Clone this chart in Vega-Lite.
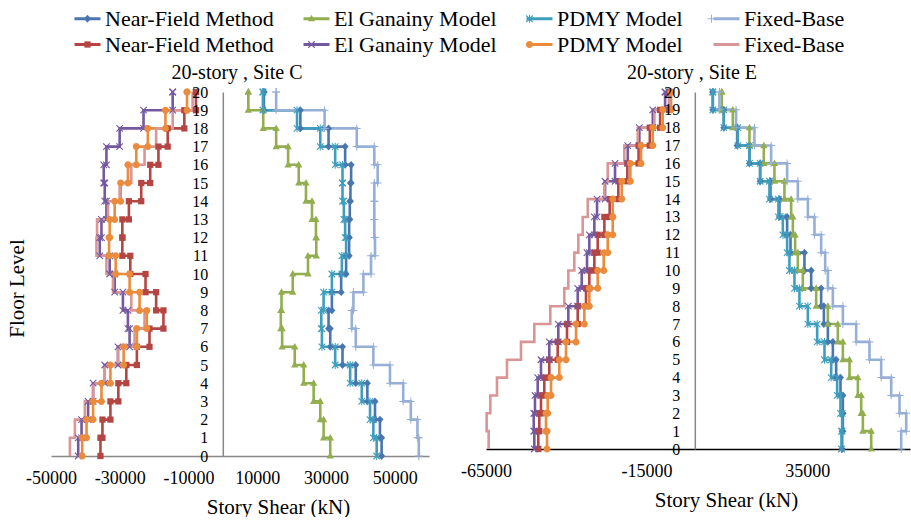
{
"$schema": "https://vega.github.io/schema/vega-lite/v6.json",
"background": "white",
"padding": {"left": 6, "top": 4, "right": 0, "bottom": 0},
"autosize": {"type": "pad"},
"config": {"view": {"stroke": null}, "font": "Liberation Serif", "axis": {"labelOverlap": false, "labelFont": "Liberation Serif", "titleFont": "Liberation Serif"}, "legend": {"labelLimit": 0}},
"datasets": {
"C": [
{"s":"a1","f":0,"v":46210},{"s":"a1","f":1,"v":45730},{"s":"a1","f":2,"v":44290},{"s":"a1","f":3,"v":42060},{"s":"a1","f":4,"v":38690},{"s":"a1","f":5,"v":34830},{"s":"a1","f":6,"v":31260},{"s":"a1","f":7,"v":30770},{"s":"a1","f":8,"v":31740},{"s":"a1","f":9,"v":34440},{"s":"a1","f":10,"v":35880},{"s":"a1","f":11,"v":36760},{"s":"a1","f":12,"v":36760},{"s":"a1","f":13,"v":36950},{"s":"a1","f":14,"v":37140},{"s":"a1","f":15,"v":37340},{"s":"a1","f":16,"v":35600},{"s":"a1","f":17,"v":30770},{"s":"a1","f":18,"v":22570},{"s":"a1","f":19,"v":11960},{"s":"a1","f":20,"v":11960},
{"s":"a2","f":0,"v":31260},{"s":"a2","f":1,"v":29330},{"s":"a2","f":2,"v":28360},{"s":"a2","f":3,"v":26430},{"s":"a2","f":4,"v":23540},{"s":"a2","f":5,"v":20930},{"s":"a2","f":6,"v":17260},{"s":"a2","f":7,"v":16880},{"s":"a2","f":8,"v":17080},{"s":"a2","f":9,"v":20350},{"s":"a2","f":10,"v":24790},{"s":"a2","f":11,"v":27200},{"s":"a2","f":12,"v":27100},{"s":"a2","f":13,"v":25950},{"s":"a2","f":14,"v":24200},{"s":"a2","f":15,"v":22090},{"s":"a2","f":16,"v":19000},{"s":"a2","f":17,"v":15520},{"s":"a2","f":18,"v":11760},{"s":"a2","f":19,"v":7420},{"s":"a2","f":20,"v":7420},
{"s":"a3","f":0,"v":44770},{"s":"a3","f":1,"v":43810},{"s":"a3","f":2,"v":42840},{"s":"a3","f":3,"v":40430},{"s":"a3","f":4,"v":37050},{"s":"a3","f":5,"v":32700},{"s":"a3","f":6,"v":28840},{"s":"a3","f":7,"v":28650},{"s":"a3","f":8,"v":29330},{"s":"a3","f":9,"v":31740},{"s":"a3","f":10,"v":34640},{"s":"a3","f":11,"v":35880},{"s":"a3","f":12,"v":35600},{"s":"a3","f":13,"v":35220},{"s":"a3","f":14,"v":34830},{"s":"a3","f":15,"v":34830},{"s":"a3","f":16,"v":32700},{"s":"a3","f":17,"v":28360},{"s":"a3","f":18,"v":21600},{"s":"a3","f":19,"v":11670},{"s":"a3","f":20,"v":11670},
{"s":"a4","f":0,"v":57030},{"s":"a4","f":1,"v":56640},{"s":"a4","f":2,"v":54710},{"s":"a4","f":3,"v":52490},{"s":"a4","f":4,"v":48640},{"s":"a4","f":5,"v":43810},{"s":"a4","f":6,"v":38690},{"s":"a4","f":7,"v":37530},{"s":"a4","f":8,"v":38010},{"s":"a4","f":9,"v":40910},{"s":"a4","f":10,"v":43130},{"s":"a4","f":11,"v":44290},{"s":"a4","f":12,"v":44090},{"s":"a4","f":13,"v":44090},{"s":"a4","f":14,"v":44090},{"s":"a4","f":15,"v":45060},{"s":"a4","f":16,"v":44090},{"s":"a4","f":17,"v":38980},{"s":"a4","f":18,"v":29620},{"s":"a4","f":19,"v":15520},{"s":"a4","f":20,"v":15520},
{"s":"b1","f":0,"v":-35610},{"s":"b1","f":1,"v":-35030},{"s":"b1","f":2,"v":-32710},{"s":"b1","f":3,"v":-30400},{"s":"b1","f":4,"v":-28080},{"s":"b1","f":5,"v":-25010},{"s":"b1","f":6,"v":-21340},{"s":"b1","f":7,"v":-17280},{"s":"b1","f":8,"v":-19400},{"s":"b1","f":9,"v":-22490},{"s":"b1","f":10,"v":-26920},{"s":"b1","f":11,"v":-29240},{"s":"b1","f":12,"v":-29240},{"s":"b1","f":13,"v":-27330},{"s":"b1","f":14,"v":-23740},{"s":"b1","f":15,"v":-21130},{"s":"b1","f":16,"v":-18730},{"s":"b1","f":17,"v":-16040},{"s":"b1","f":18,"v":-11200},{"s":"b1","f":19,"v":-7820},{"s":"b1","f":20,"v":-7820},
{"s":"b2","f":0,"v":-42080},{"s":"b2","f":1,"v":-41110},{"s":"b2","f":2,"v":-39200},{"s":"b2","f":3,"v":-37750},{"s":"b2","f":4,"v":-34360},{"s":"b2","f":5,"v":-30510},{"s":"b2","f":6,"v":-27130},{"s":"b2","f":7,"v":-27620},{"s":"b2","f":8,"v":-29070},{"s":"b2","f":9,"v":-31470},{"s":"b2","f":10,"v":-32920},{"s":"b2","f":11,"v":-35810},{"s":"b2","f":12,"v":-35320},{"s":"b2","f":13,"v":-33870},{"s":"b2","f":14,"v":-34360},{"s":"b2","f":15,"v":-34650},{"s":"b2","f":16,"v":-33870},{"s":"b2","f":17,"v":-30020},{"s":"b2","f":18,"v":-23070},{"s":"b2","f":19,"v":-14590},{"s":"b2","f":20,"v":-14590},
{"s":"b3","f":0,"v":-40930},{"s":"b3","f":1,"v":-39660},{"s":"b3","f":2,"v":-37750},{"s":"b3","f":3,"v":-35320},{"s":"b3","f":4,"v":-32710},{"s":"b3","f":5,"v":-28860},{"s":"b3","f":6,"v":-25010},{"s":"b3","f":7,"v":-22120},{"s":"b3","f":8,"v":-24230},{"s":"b3","f":9,"v":-27130},{"s":"b3","f":10,"v":-31180},{"s":"b3","f":11,"v":-33110},{"s":"b3","f":12,"v":-32920},{"s":"b3","f":13,"v":-31470},{"s":"b3","f":14,"v":-29730},{"s":"b3","f":15,"v":-27620},{"s":"b3","f":16,"v":-25190},{"s":"b3","f":17,"v":-21830},{"s":"b3","f":18,"v":-16700},{"s":"b3","f":19,"v":-10420},{"s":"b3","f":20,"v":-10420},
{"s":"b4","f":0,"v":-44500},{"s":"b4","f":1,"v":-43050},{"s":"b4","f":2,"v":-40150},{"s":"b4","f":3,"v":-37750},{"s":"b4","f":4,"v":-34360},{"s":"b4","f":5,"v":-30510},{"s":"b4","f":6,"v":-25680},{"s":"b4","f":7,"v":-22780},{"s":"b4","f":8,"v":-26630},{"s":"b4","f":9,"v":-31960},{"s":"b4","f":10,"v":-33870},{"s":"b4","f":11,"v":-36770},{"s":"b4","f":12,"v":-36590},{"s":"b4","f":13,"v":-33400},{"s":"b4","f":14,"v":-30020},{"s":"b4","f":15,"v":-26630},{"s":"b4","f":16,"v":-22780},{"s":"b4","f":17,"v":-19400},{"s":"b4","f":18,"v":-14590},{"s":"b4","f":19,"v":-8790},{"s":"b4","f":20,"v":-8790}
],
"E": [
{"s":"a1","f":0,"v":45880},{"s":"a1","f":1,"v":46100},{"s":"a1","f":2,"v":46100},{"s":"a1","f":3,"v":45360},{"s":"a1","f":4,"v":44010},{"s":"a1","f":5,"v":42980},{"s":"a1","f":6,"v":41430},{"s":"a1","f":7,"v":40180},{"s":"a1","f":8,"v":39340},{"s":"a1","f":9,"v":36230},{"s":"a1","f":10,"v":34140},{"s":"a1","f":11,"v":29800},{"s":"a1","f":12,"v":28750},{"s":"a1","f":13,"v":26360},{"s":"a1","f":14,"v":23560},{"s":"a1","f":15,"v":20340},{"s":"a1","f":16,"v":17020},{"s":"a1","f":17,"v":13180},{"s":"a1","f":18,"v":9030},{"s":"a1","f":19,"v":5610},{"s":"a1","f":20,"v":5610},
{"s":"a2","f":0,"v":54920},{"s":"a2","f":1,"v":52330},{"s":"a2","f":2,"v":51800},{"s":"a2","f":3,"v":50770},{"s":"a2","f":4,"v":48170},{"s":"a2","f":5,"v":46100},{"s":"a2","f":6,"v":44540},{"s":"a2","f":7,"v":41430},{"s":"a2","f":8,"v":37790},{"s":"a2","f":9,"v":33640},{"s":"a2","f":10,"v":32080},{"s":"a2","f":11,"v":31240},{"s":"a2","f":12,"v":30530},{"s":"a2","f":13,"v":30000},{"s":"a2","f":14,"v":27910},{"s":"a2","f":15,"v":24800},{"s":"a2","f":16,"v":21490},{"s":"a2","f":17,"v":17020},{"s":"a2","f":18,"v":11840},{"s":"a2","f":19,"v":8410},{"s":"a2","f":20,"v":8410},
{"s":"a3","f":0,"v":45670},{"s":"a3","f":1,"v":45880},{"s":"a3","f":2,"v":45360},{"s":"a3","f":3,"v":44320},{"s":"a3","f":4,"v":42460},{"s":"a3","f":5,"v":40380},{"s":"a3","f":6,"v":38100},{"s":"a3","f":7,"v":35200},{"s":"a3","f":8,"v":32580},{"s":"a3","f":9,"v":31030},{"s":"a3","f":10,"v":29470},{"s":"a3","f":11,"v":28750},{"s":"a3","f":12,"v":27410},{"s":"a3","f":13,"v":26040},{"s":"a3","f":14,"v":23240},{"s":"a3","f":15,"v":20340},{"s":"a3","f":16,"v":17020},{"s":"a3","f":17,"v":13390},{"s":"a3","f":18,"v":9030},{"s":"a3","f":19,"v":5610},{"s":"a3","f":20,"v":5610},
{"s":"a4","f":0,"v":64260},{"s":"a4","f":1,"v":65820},{"s":"a4","f":2,"v":63730},{"s":"a4","f":3,"v":61150},{"s":"a4","f":4,"v":58030},{"s":"a4","f":5,"v":54390},{"s":"a4","f":6,"v":50240},{"s":"a4","f":7,"v":46100},{"s":"a4","f":8,"v":42980},{"s":"a4","f":9,"v":41430},{"s":"a4","f":10,"v":40590},{"s":"a4","f":11,"v":39340},{"s":"a4","f":12,"v":37260},{"s":"a4","f":13,"v":35200},{"s":"a4","f":14,"v":32080},{"s":"a4","f":15,"v":28750},{"s":"a4","f":16,"v":23770},{"s":"a4","f":17,"v":18570},{"s":"a4","f":18,"v":12860},{"s":"a4","f":19,"v":7670},{"s":"a4","f":20,"v":7670},
{"s":"b1","f":0,"v":-48720},{"s":"b1","f":1,"v":-48410},{"s":"b1","f":2,"v":-47880},{"s":"b1","f":3,"v":-46850},{"s":"b1","f":4,"v":-45290},{"s":"b1","f":5,"v":-42680},{"s":"b1","f":6,"v":-39780},{"s":"b1","f":7,"v":-36450},{"s":"b1","f":8,"v":-33860},{"s":"b1","f":9,"v":-32830},{"s":"b1","f":10,"v":-31270},{"s":"b1","f":11,"v":-30220},{"s":"b1","f":12,"v":-28150},{"s":"b1","f":13,"v":-26500},{"s":"b1","f":14,"v":-23800},{"s":"b1","f":15,"v":-21000},{"s":"b1","f":16,"v":-17500},{"s":"b1","f":17,"v":-14000},{"s":"b1","f":18,"v":-10800},{"s":"b1","f":19,"v":-8000},{"s":"b1","f":20,"v":-8000},
{"s":"b2","f":0,"v":-49960},{"s":"b2","f":1,"v":-50150},{"s":"b2","f":2,"v":-49750},{"s":"b2","f":3,"v":-48910},{"s":"b2","f":4,"v":-47880},{"s":"b2","f":5,"v":-45290},{"s":"b2","f":6,"v":-42490},{"s":"b2","f":7,"v":-39370},{"s":"b2","f":8,"v":-36450},{"s":"b2","f":9,"v":-35200},{"s":"b2","f":10,"v":-33550},{"s":"b2","f":11,"v":-32830},{"s":"b2","f":12,"v":-31270},{"s":"b2","f":13,"v":-30430},{"s":"b2","f":14,"v":-27940},{"s":"b2","f":15,"v":-24830},{"s":"b2","f":16,"v":-20870},{"s":"b2","f":17,"v":-17260},{"s":"b2","f":18,"v":-13080},{"s":"b2","f":19,"v":-9250},{"s":"b2","f":20,"v":-9250},
{"s":"b3","f":0,"v":-46010},{"s":"b3","f":1,"v":-46320},{"s":"b3","f":2,"v":-45790},{"s":"b3","f":3,"v":-44760},{"s":"b3","f":4,"v":-42180},{"s":"b3","f":5,"v":-40090},{"s":"b3","f":6,"v":-36970},{"s":"b3","f":7,"v":-34390},{"s":"b3","f":8,"v":-32830},{"s":"b3","f":9,"v":-30220},{"s":"b3","f":10,"v":-28350},{"s":"b3","f":11,"v":-27100},{"s":"b3","f":12,"v":-25540},{"s":"b3","f":13,"v":-25540},{"s":"b3","f":14,"v":-22740},{"s":"b3","f":15,"v":-20060},{"s":"b3","f":16,"v":-16730},{"s":"b3","f":17,"v":-13080},{"s":"b3","f":18,"v":-9970},{"s":"b3","f":19,"v":-7380},{"s":"b3","f":20,"v":-7380},
{"s":"b4","f":0,"v":-64170},{"s":"b4","f":1,"v":-64800},{"s":"b4","f":2,"v":-63660},{"s":"b4","f":3,"v":-61580},{"s":"b4","f":4,"v":-58470},{"s":"b4","f":5,"v":-54110},{"s":"b4","f":6,"v":-49960},{"s":"b4","f":7,"v":-44980},{"s":"b4","f":8,"v":-40620},{"s":"b4","f":9,"v":-39370},{"s":"b4","f":10,"v":-37500},{"s":"b4","f":11,"v":-36250},{"s":"b4","f":12,"v":-34890},{"s":"b4","f":13,"v":-33330},{"s":"b4","f":14,"v":-28150},{"s":"b4","f":15,"v":-27100},{"s":"b4","f":16,"v":-21930},{"s":"b4","f":17,"v":-17760},{"s":"b4","f":18,"v":-12580},{"s":"b4","f":19,"v":-7900},{"s":"b4","f":20,"v":-7900}
]
},
"spacing": 31,
"resolve": {"scale": {"x": "independent", "y": "independent", "color": "shared", "fill": "shared", "shape": "shared"}},
"hconcat": [
{
"width": 378, "height": 364,
"data": {"name": "C"},
"title": {"text": "20-story , Site C", "font": "Liberation Serif", "fontSize": 20, "fontWeight": "normal", "color": "black", "offset": 1, "dx": -3},
"layer": [
{"mark": {"type": "line", "interpolate": "step-before", "strokeWidth": 2.6},
 "encoding": {
  "x": {"field": "v", "type": "quantitative", "scale": {"domain": [-50000, 60000], "nice": false, "zero": false},
        "axis": {"values": [-50000, -30000, -10000, 10000, 30000, 50000], "labelExpr": "'' + datum.value", "ticks": false, "grid": false, "labelFont": "Liberation Serif", "labelFontSize": 18, "labelColor": "black", "labelPadding": 13, "labelFlush": false, "labelOverlap": false, "domainColor": "#888888", "domainWidth": 1.5, "title": "Story Shear (kN)", "titleFont": "Liberation Serif", "titleFontSize": 21, "titleFontWeight": "normal", "titleColor": "black", "titleX": 227, "titlePadding": 9}},
  "y": {"field": "f", "type": "quantitative", "scale": {"domain": [0, 20], "nice": false, "zero": false},
        "axis": {"values": [0,1,2,3,4,5,6,7,8,9,10,11,12,13,14,15,16,17,18,19,20], "labelExpr": "'' + datum.value", "ticks": false, "grid": false, "offset": -171.8, "labelFont": "Liberation Serif", "labelFontSize": 16, "labelColor": "black", "labelPadding": 15, "labelOverlap": false, "labelBound": false, "domainColor": "#888888", "domainWidth": 1.5, "title": "Floor Level", "titleFont": "Liberation Serif", "titleFontSize": 21, "titleFontWeight": "normal", "titleColor": "black", "titleX": -195.7, "titleY": 196, "zindex": 1}},
  "color": {"field": "s", "type": "nominal",
            "scale": {"domain": ["a1","a2","a3","a4","b1","b2","b3","b4"], "range": ["#4A76B0","#92AE4F","#3E9FBD","#96AFD6","#B44542","#7459A0","#EB8B3C","#DA9696"]},
            "legend": {"orient": "none", "legendX": 22, "legendY": -88, "direction": "horizontal", "columns": 4, "title": null, "symbolType": "stroke", "symbolSize": 676, "symbolStrokeWidth": 3, "labelFont": "Liberation Serif", "labelFontSize": 22, "labelColor": "black", "labelLimit": 0, "labelOffset": 3, "columnPadding": 23, "rowPadding": -1, "padding": 0, "labelExpr": "['Near-Field Method','El Ganainy Model','PDMY Model','Fixed-Base'][toNumber(slice(datum.value,1))-1]"}},
  "order": {"field": "f", "type": "quantitative"}
 }},
{"transform": [
  {"window": [{"op": "lag", "field": "v", "as": "vp"}], "groupby": ["s"], "sort": [{"field": "f", "order": "ascending"}]},
  {"fold": ["v", "vp"], "as": ["k", "xv"]},
  {"filter": "datum.xv != null && datum.s != 'b4'"}
 ],
 "mark": {"type": "point", "filled": true, "size": 676, "opacity": 1, "strokeWidth": 0},
 "encoding": {
  "x": {"field": "xv", "type": "quantitative",
        "axis": {"values": [-50000, -30000, -10000, 10000, 30000, 50000], "labelExpr": "'' + datum.value", "ticks": false, "grid": false, "labelFont": "Liberation Serif", "labelFontSize": 18, "labelColor": "black", "labelPadding": 13, "labelFlush": false, "labelOverlap": false, "domainColor": "#888888", "domainWidth": 1.5, "title": "Story Shear (kN)", "titleFont": "Liberation Serif", "titleFontSize": 21, "titleFontWeight": "normal", "titleColor": "black", "titleX": 227, "titlePadding": 9}},
  "y": {"field": "f", "type": "quantitative",
        "axis": {"values": [0,1,2,3,4,5,6,7,8,9,10,11,12,13,14,15,16,17,18,19,20], "labelExpr": "'' + datum.value", "ticks": false, "grid": false, "offset": -171.8, "labelFont": "Liberation Serif", "labelFontSize": 16, "labelColor": "black", "labelPadding": 15, "labelOverlap": false, "labelBound": false, "domainColor": "#888888", "domainWidth": 1.5, "title": "Floor Level", "titleFont": "Liberation Serif", "titleFontSize": 21, "titleFontWeight": "normal", "titleColor": "black", "titleX": -195.7, "titleY": 196, "zindex": 1}},
  "fill": {"field": "s", "type": "nominal",
           "scale": {"domain": ["a1","a2","a3","a4","b1","b2","b3"], "range": ["#4A76B0","#92AE4F","#3E9FBD","#96AFD6","#B44542","#7459A0","#EB8B3C"]},
           "legend": {"orient": "none", "legendX": 22, "legendY": -88, "direction": "horizontal", "columns": 4, "title": null, "symbolSize": 676, "symbolStrokeWidth": 3, "symbolStrokeColor": "transparent", "labelFont": "Liberation Serif", "labelFontSize": 22, "labelColor": "black", "labelLimit": 0, "labelOpacity": 0, "labelOffset": 3, "columnPadding": 23, "rowPadding": -1, "padding": 0, "labelExpr": "['Near-Field Method','El Ganainy Model','PDMY Model','Fixed-Base'][toNumber(slice(datum.value,1))-1]"}},
  "shape": {"field": "s", "type": "nominal",
           "scale": {"domain": ["a1","a2","a3","a4","b1","b2","b3"], "range": [
             "M0,-0.3L0.27,0L0,0.3L-0.27,0Z",
             "M0,-0.3L0.28,0.2L-0.28,0.2Z",
             "M-0.22,-0.28L0.28,0.22L0.22,0.28L-0.28,-0.22Z M-0.22,0.28L-0.28,0.22L0.22,-0.28L0.28,-0.22Z M-0.04,-0.3L0.04,-0.3L0.04,0.3L-0.04,0.3Z",
             "M-0.3,-0.04L-0.04,-0.04L-0.04,-0.3L0.04,-0.3L0.04,-0.04L0.3,-0.04L0.3,0.04L0.04,0.04L0.04,0.3L-0.04,0.3L-0.04,0.04L-0.3,0.04Z",
             "M-0.24,-0.24L0.24,-0.24L0.24,0.24L-0.24,0.24Z",
             "M-0.22,-0.28L0.28,0.22L0.22,0.28L-0.28,-0.22Z M-0.22,0.28L-0.28,0.22L0.22,-0.28L0.28,-0.22Z",
             "M-0.27,0A0.27,0.27,0,1,1,0.27,0A0.27,0.27,0,1,1,-0.27,0Z"]},
           "legend": {"orient": "none", "legendX": 22, "legendY": -88, "direction": "horizontal", "columns": 4, "title": null, "symbolSize": 676, "symbolStrokeWidth": 3, "symbolStrokeColor": "transparent", "labelFont": "Liberation Serif", "labelFontSize": 22, "labelColor": "black", "labelLimit": 0, "labelOpacity": 0, "labelOffset": 3, "columnPadding": 23, "rowPadding": -1, "padding": 0, "labelExpr": "['Near-Field Method','El Ganainy Model','PDMY Model','Fixed-Base'][toNumber(slice(datum.value,1))-1]"}}
 }}
]
},
{
"width": 424, "height": 357,
"data": {"name": "E"},
"title": {"text": "20-story , Site E", "font": "Liberation Serif", "fontSize": 20, "fontWeight": "normal", "color": "black", "offset": 1, "dx": -6},
"layer": [
{"mark": {"type": "line", "interpolate": "step-before", "strokeWidth": 2.6},
 "encoding": {
  "x": {"field": "v", "type": "quantitative", "scale": {"domain": [-65000, 67000], "nice": false, "zero": false},
        "axis": {"values": [-65000, -15000, 35000], "labelExpr": "'' + datum.value", "ticks": false, "grid": false, "labelFont": "Liberation Serif", "labelFontSize": 18, "labelColor": "black", "labelPadding": 13, "labelFlush": false, "labelOverlap": false, "domainColor": "#000000", "domainWidth": 1.5, "title": "Story Shear (kN)", "titleFont": "Liberation Serif", "titleFontSize": 21, "titleFontWeight": "normal", "titleColor": "black", "titleX": 240, "titlePadding": 9}},
  "y": {"field": "f", "type": "quantitative", "scale": {"domain": [0, 20], "nice": false, "zero": false},
        "axis": {"values": [0,1,2,3,4,5,6,7,8,9,10,11,12,13,14,15,16,17,18,19,20], "labelExpr": "'' + datum.value", "ticks": false, "grid": false, "offset": -208.8, "labelFont": "Liberation Serif", "labelFontSize": 16, "labelColor": "black", "labelPadding": 15, "labelOverlap": false, "labelBound": false, "domainColor": "#888888", "domainWidth": 1.5, "title": null, "zindex": 1}},
  "color": {"field": "s", "type": "nominal",
            "scale": {"domain": ["a1","a2","a3","a4","b1","b2","b3","b4"], "range": ["#4A76B0","#92AE4F","#3E9FBD","#96AFD6","#B44542","#7459A0","#EB8B3C","#DA9696"]},
            "legend": {"orient": "none", "legendX": 22, "legendY": -88, "direction": "horizontal", "columns": 4, "title": null, "symbolType": "stroke", "symbolSize": 676, "symbolStrokeWidth": 3, "labelFont": "Liberation Serif", "labelFontSize": 22, "labelColor": "black", "labelLimit": 0, "labelOffset": 3, "columnPadding": 23, "rowPadding": -1, "padding": 0, "labelExpr": "['Near-Field Method','El Ganainy Model','PDMY Model','Fixed-Base'][toNumber(slice(datum.value,1))-1]"}},
  "order": {"field": "f", "type": "quantitative"}
 }},
{"transform": [
  {"window": [{"op": "lag", "field": "v", "as": "vp"}], "groupby": ["s"], "sort": [{"field": "f", "order": "ascending"}]},
  {"fold": ["v", "vp"], "as": ["k", "xv"]},
  {"filter": "datum.xv != null && datum.s != 'b4'"}
 ],
 "mark": {"type": "point", "filled": true, "size": 676, "opacity": 1, "strokeWidth": 0},
 "encoding": {
  "x": {"field": "xv", "type": "quantitative",
        "axis": {"values": [-65000, -15000, 35000], "labelExpr": "'' + datum.value", "ticks": false, "grid": false, "labelFont": "Liberation Serif", "labelFontSize": 18, "labelColor": "black", "labelPadding": 13, "labelFlush": false, "labelOverlap": false, "domainColor": "#000000", "domainWidth": 1.5, "title": "Story Shear (kN)", "titleFont": "Liberation Serif", "titleFontSize": 21, "titleFontWeight": "normal", "titleColor": "black", "titleX": 240, "titlePadding": 9}},
  "y": {"field": "f", "type": "quantitative",
        "axis": {"values": [0,1,2,3,4,5,6,7,8,9,10,11,12,13,14,15,16,17,18,19,20], "labelExpr": "'' + datum.value", "ticks": false, "grid": false, "offset": -208.8, "labelFont": "Liberation Serif", "labelFontSize": 16, "labelColor": "black", "labelPadding": 15, "labelOverlap": false, "labelBound": false, "domainColor": "#888888", "domainWidth": 1.5, "title": null, "zindex": 1}},
  "fill": {"field": "s", "type": "nominal",
           "scale": {"domain": ["a1","a2","a3","a4","b1","b2","b3"], "range": ["#4A76B0","#92AE4F","#3E9FBD","#96AFD6","#B44542","#7459A0","#EB8B3C"]},
           "legend": {"orient": "none", "legendX": 22, "legendY": -88, "direction": "horizontal", "columns": 4, "title": null, "symbolSize": 676, "symbolStrokeWidth": 3, "symbolStrokeColor": "transparent", "labelFont": "Liberation Serif", "labelFontSize": 22, "labelColor": "black", "labelLimit": 0, "labelOpacity": 0, "labelOffset": 3, "columnPadding": 23, "rowPadding": -1, "padding": 0, "labelExpr": "['Near-Field Method','El Ganainy Model','PDMY Model','Fixed-Base'][toNumber(slice(datum.value,1))-1]"}},
  "shape": {"field": "s", "type": "nominal",
           "scale": {"domain": ["a1","a2","a3","a4","b1","b2","b3"], "range": [
             "M0,-0.3L0.27,0L0,0.3L-0.27,0Z",
             "M0,-0.3L0.28,0.2L-0.28,0.2Z",
             "M-0.22,-0.28L0.28,0.22L0.22,0.28L-0.28,-0.22Z M-0.22,0.28L-0.28,0.22L0.22,-0.28L0.28,-0.22Z M-0.04,-0.3L0.04,-0.3L0.04,0.3L-0.04,0.3Z",
             "M-0.3,-0.04L-0.04,-0.04L-0.04,-0.3L0.04,-0.3L0.04,-0.04L0.3,-0.04L0.3,0.04L0.04,0.04L0.04,0.3L-0.04,0.3L-0.04,0.04L-0.3,0.04Z",
             "M-0.24,-0.24L0.24,-0.24L0.24,0.24L-0.24,0.24Z",
             "M-0.22,-0.28L0.28,0.22L0.22,0.28L-0.28,-0.22Z M-0.22,0.28L-0.28,0.22L0.22,-0.28L0.28,-0.22Z",
             "M-0.27,0A0.27,0.27,0,1,1,0.27,0A0.27,0.27,0,1,1,-0.27,0Z"]},
           "legend": {"orient": "none", "legendX": 22, "legendY": -88, "direction": "horizontal", "columns": 4, "title": null, "symbolSize": 676, "symbolStrokeWidth": 3, "symbolStrokeColor": "transparent", "labelFont": "Liberation Serif", "labelFontSize": 22, "labelColor": "black", "labelLimit": 0, "labelOpacity": 0, "labelOffset": 3, "columnPadding": 23, "rowPadding": -1, "padding": 0, "labelExpr": "['Near-Field Method','El Ganainy Model','PDMY Model','Fixed-Base'][toNumber(slice(datum.value,1))-1]"}}
 }}
]
}
]
}
